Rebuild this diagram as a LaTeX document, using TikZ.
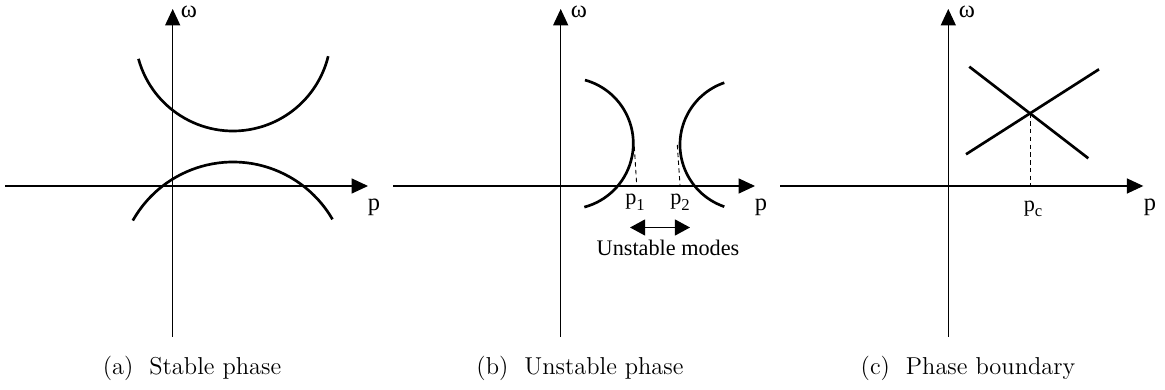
\documentclass[tikz,border=0pt]{standalone}
\usepackage{fontspec}
\newfontfamily\tm{Liberation Serif}
\usetikzlibrary{arrows.meta}
\newcommand{\subtxt}[1]{\raisebox{-0.55ex}{\fontsize{7.5}{9}\selectfont #1}}
\begin{document}
\begin{tikzpicture}[x=0.45pt,y=-0.45pt,
 axis/.style={line width=0.5pt,-{Triangle[length=7.4pt,width=6.8pt]}},
 curve/.style={line width=1.2pt},
 guide/.style={line width=0.4pt,dash pattern=on 2pt off 1.5pt},
 dbl/.style={line width=0.6pt,{Triangle[length=6.8pt,width=7.2pt]}-{Triangle[length=6.8pt,width=7.2pt]}},
 lab/.style={font=\tm\fontsize{11}{13}\selectfont,inner sep=0pt},
 omlab/.style={font=\tm\fontsize{11}{13}\selectfont,inner sep=0pt},
 smalllab/.style={font=\tm\fontsize{10}{12}\selectfont,inner sep=0pt},
 captext/.style={font=\fontsize{11}{13}\selectfont,inner sep=0pt}]
\useasboundingbox (0,0) rectangle (1165,390);
% ---------- (a) ----------
\coordinate (aXl) at (5,186); \coordinate (aXr) at (368,186);
\coordinate (aYb) at (172.7,337); \coordinate (aYt) at (172.7,9);
\draw[axis] (aXl) -- (aXr);
\draw[axis] (aYb) -- (aYt);
\node[omlab] (aw) at (189,12) {ω};
\node[lab] (ap) at (374,207) {p};
\draw[curve] (233,33) ++(164.7:98) arc[start angle=164.7,end angle=13.7,radius=98];
\draw[curve] (233,277) ++(209.4:115) arc[start angle=209.4,end angle=329.9,radius=115];
\node[captext] (acap) at (192,368) {(a)~ Stable phase};
% ---------- (b) ----------
\coordinate (bXl) at (393,186); \coordinate (bXr) at (755,186);
\coordinate (bYb) at (560.7,337); \coordinate (bYt) at (560.7,9);
\draw[axis] (bXl) -- (bXr);
\draw[axis] (bYb) -- (bYt);
\node[omlab] (bw) at (579,12) {ω};
\node[lab] (bp) at (761,207) {p};
\draw[curve] (567.5,143.5) ++(-74.6:65.8) arc[start angle=-74.6,end angle=75.2,radius=65.8];
\draw[curve] (745.5,144.7) ++(251.1:65.5) arc[start angle=251.1,end angle=108.9,radius=65.5];
\coordinate (d1t) at (634.3,146.7); \coordinate (d1b) at (636.7,185);
\coordinate (d2t) at (677.3,145); \coordinate (d2b) at (680,185);
\draw[guide] (d1t) -- (d1b);
\draw[guide] (d2t) -- (d2b);
\node[smalllab] (p1) at (635,202) {p\subtxt{1}};
\node[smalllab] (p2) at (680,202) {p\subtxt{2}};
\coordinate (ua) at (630,227.5); \coordinate (ub) at (690,227.5);
\draw[dbl] (ua) -- (ub);
\node[smalllab] (um) at (668,247.5) {Unstable modes};
\node[captext] (bcap) at (580,368) {(b)~ Unstable phase};
% ---------- (c) ----------
\coordinate (cXl) at (780,186); \coordinate (cXr) at (1143.3,186);
\coordinate (cYb) at (948.3,337); \coordinate (cYt) at (948.3,9);
\draw[axis] (cXl) -- (cXr);
\draw[axis] (cYb) -- (cYt);
\node[omlab] (cw) at (967,12) {ω};
\node[lab] (cp) at (1150,207) {p};
\coordinate (l1a) at (969.3,66.7); \coordinate (l1b) at (1088.3,158.3);
\coordinate (l2a) at (966,154.3); \coordinate (l2b) at (1099,69.3);
\draw[curve] (l1a) -- (l1b);
\draw[curve] (l2a) -- (l2b);
\coordinate (X) at (intersection of l1a--l1b and l2a--l2b);
\coordinate (Xb) at (X |- cXr);
\draw[guide] (X) -- (Xb);
\node[smalllab] (pc) at (1033,209) {p\subtxt{c}};
\node[captext] (ccap) at (968,368) {(c)~ Phase boundary};
\end{tikzpicture}
\end{document}
